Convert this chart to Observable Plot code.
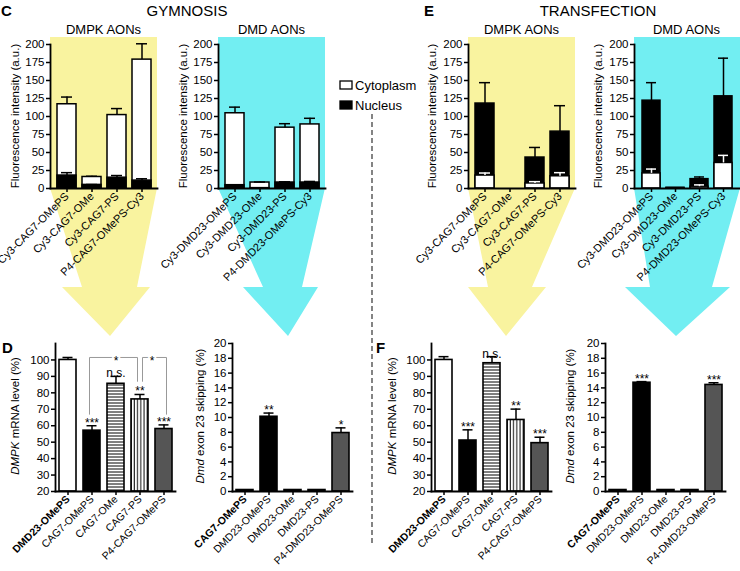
<!DOCTYPE html>
<html><head><meta charset="utf-8">
<script src="https://cdn.jsdelivr.net/npm/d3@7"></script>
<script src="https://cdn.jsdelivr.net/npm/@observablehq/plot@0.6"></script>
<style>
body{margin:0;background:#fff;font-family:"Liberation Sans",Arial,sans-serif;}
#fig{position:relative;width:740px;height:571px;overflow:hidden;background:#fff;}
</style></head><body><div id="fig"></div>
<svg width="0" height="0" style="position:absolute">
  <defs>
    <pattern id="hstripe" patternUnits="userSpaceOnUse" width="4" height="3"><rect width="4" height="3" fill="white"/><line x1="0" y1="1" x2="4" y2="1" stroke="black" stroke-width="1"/></pattern>
    <pattern id="vstripe" patternUnits="userSpaceOnUse" width="3.2" height="4"><rect width="3.2" height="4" fill="white"/><line x1="1" y1="0" x2="1" y2="4" stroke="black" stroke-width="1"/></pattern>
  </defs>
</svg>
<script>
// ---------------- DATA ----------------
const dmpkTopCats = ["Cy3-CAG7-OMePS", "Cy3-CAG7-OMe", "Cy3-CAG7-PS", "P4-CAG7-OMePS-Cy3"];
const dmdTopCats = ["Cy3-DMD23-OMePS", "Cy3-DMD23-OMe", "Cy3-DMD23-PS", "P4-DMD23-OMePS-Cy3"];
const legendLabels = ["Cytoplasm", "Nucleus"];

// Gymnosis, fluorescence (a.u.)
const gymDmpkCyto = [117, 16, 102, 179];
const gymDmpkCytoErr = [10, 1, 9, 22];
const gymDmpkNuc = [18, 5, 15, 11];
const gymDmpkNucErr = [4, 0.5, 3, 2.5];
const gymDmdCyto = [104.5, 8.3, 84.5, 89];
const gymDmdCytoErr = [8.5, 0.7, 5.5, 8.5];
const gymDmdNuc = [4.6, 0.5, 8.3, 8.3];
const gymDmdNucErr = [0.5, 0, 1, 1.5];
// Transfection, fluorescence (a.u.)
const trfDmpkCyto = [18, 0, 7, 17];
const trfDmpkCytoErr = [3.5, 0, 2.5, 5];
const trfDmpkNuc = [118, 0, 43, 79];
const trfDmpkNucErr = [29, 0, 14, 36];
const trfDmdCyto = [21, 0.5, 2.5, 35.5];
const trfDmdCytoErr = [6, 0, 2.5, 10.5];
const trfDmdNuc = [122, 1, 13, 128];
const trfDmdNucErr = [25, 0, 3, 53];

// mRNA levels (%) and exon skipping (%)
const mrnaCats = ["DMD23-OMePS", "CAG7-OMePS", "CAG7-OMe", "CAG7-PS", "P4-CAG7-OMePS"];
const gymMrna = [100, 57, 85.5, 76, 58];
const gymMrnaErr = [1.5, 3, 4.5, 3, 2.5];
const gymMrnaSig = ["", "***", "n.s.", "**", "***"];
const trfMrna = [100, 51, 98, 63.5, 49.4];
const trfMrnaErr = [2, 6.5, 4, 6.6, 3.6];
const trfMrnaSig = ["", "***", "n.s.", "**", "***"];

const skipCats = ["CAG7-OMePS", "DMD23-OMePS", "DMD23-OMe", "DMD23-PS", "P4-DMD23-OMePS"];
const gymSkip = [0.2, 10.1, 0.2, 0.2, 7.9];
const gymSkipErr = [0, 0.5, 0, 0, 0.7];
const gymSkipSig = ["", "**", "", "", "*"];
const trfSkip = [0.2, 14.7, 0.2, 0.2, 14.4];
const trfSkipErr = [0, 0.15, 0, 0, 0.3];
const trfSkipSig = ["", "***", "", "", "***"];

// comparison brackets (panel D)
const gymBrackets = [
  {from: "CAG7-OMePS", to: "CAG7-PS", y: 101.5, yFrom: 67, yTo: 87, label: "*", mid: "CAG7-OMe", midDx: 0, dx: -2.5},
  {from: "CAG7-PS", to: "P4-CAG7-OMePS", y: 101.5, yFrom: 87, yTo: 67, label: "*", mid: "CAG7-PS", midDx: 12, dx: 2.5}
];

const mrnaTicks = [20, 30, 40, 50, 60, 70, 80, 90, 100];
const skipTicks = [0, 2, 4, 6, 8, 10, 12, 14, 16, 18, 20];
const fluoTicks = [0, 25, 50, 75, 100, 125, 150, 175, 200];
const bottomFills = ["white", "black", "url(#hstripe)", "url(#vstripe)", "#555555"];

// ---------------- LAYOUT ----------------
const FONT = "'Liberation Sans', Arial, Helvetica, sans-serif";
const fig = document.getElementById("fig");
const YELLOW = "#f9f39f", CYAN = "#72eef2";

function place(el, left, top) {
  el.style.position = "absolute";
  el.style.left = left + "px";
  el.style.top = top + "px";
  fig.appendChild(el);
}

// background: arrows and separator
const bg = d3.create("svg").attr("width", 740).attr("height", 571);
const arrows = [
  {fill: YELLOW, pts: [[50,37],[157,37],[157,188],[137,287],[150,287],[110,336],[62,287],[82,287],[50,188]]},
  {fill: CYAN, pts: [[218,37],[325,37],[325,188],[302,287],[318,287],[288,336],[243,287],[263,287],[218,188]]},
  {fill: YELLOW, pts: [[468,37],[575,37],[575,188],[532,287],[546,287],[506,336],[468,287],[488,287],[468,188]]},
  {fill: CYAN, pts: [[634,37],[740,37],[740,188],[712,287],[730,287],[676,336],[625,287],[650,287],[634,188]]}
];
bg.selectAll("polygon").data(arrows).join("polygon")
  .attr("points", d => d.pts.map(p => p.join(",")).join(" "))
  .attr("fill", d => d.fill);
bg.append("line").attr("x1", 372).attr("x2", 372).attr("y1", 114).attr("y2", 545)
  .attr("stroke", "#333").attr("stroke-width", 1.2).attr("stroke-dasharray", "5,3");
place(bg.node(), 0, 0);

// top fluorescence charts
function topChart({cats, cyto, cytoErr, nuc, nucErr, axisX, plotW = 107, nucOuter}) {
  const rows = cats.map((c, i) => ({cat: c, cyto: cyto[i], cytoErr: cytoErr[i], nuc: nuc[i], nucErr: nucErr[i]}));
  const mL = 40, mR = 4, mT = 6, mB = 110, plotH = 144;
  const layer = (key, fill, errColor) => [
    Plot.barY(rows.filter(d => d[key] > 0), {x: "cat", y: key, fill, stroke: "black", strokeWidth: 1.5}),
    Plot.ruleX(rows.filter(d => d[key + "Err"] > 0), {x: "cat", y1: key, y2: d => d[key] + d[key + "Err"], stroke: errColor, strokeWidth: 1.5}),
    Plot.tickY(rows.filter(d => d[key + "Err"] > 0), {x: "cat", y: d => d[key] + d[key + "Err"], stroke: errColor, strokeWidth: 1.5, insetLeft: 4, insetRight: 4})
  ];
  const marks = nucOuter
    ? [...layer("nuc", "black", "black"), ...layer("cyto", "white", "white")]
    : [...layer("cyto", "white", "black"), ...layer("nuc", "black", "black")];
  const p = Plot.plot({
    width: mL + plotW + mR, height: mT + plotH + mB,
    marginLeft: mL, marginRight: mR, marginTop: mT, marginBottom: mB,
    x: {domain: cats, padding: 0.25, label: null},
    y: {domain: [0, 200], label: null},
    style: {background: "transparent", fontFamily: FONT, fontSize: "11px", color: "black", overflow: "visible"},
    marks: [
      ...marks,
      Plot.axisY({ticks: fluoTicks, tickSize: 4, strokeWidth: 1.5, label: null, fontSize: 11.5, tickPadding: 2}),
      Plot.axisX({tickRotate: -45, tickSize: 4, strokeWidth: 1.5, label: null, fontSize: 11, tickPadding: 2}),
      Plot.frame({anchor: "left", strokeWidth: 1.8}),
      Plot.frame({anchor: "bottom", strokeWidth: 1.8})
    ]
  });
  place(p, axisX - mL, 44 - mT);
}

topChart({cats: dmpkTopCats, cyto: gymDmpkCyto, cytoErr: gymDmpkCytoErr, nuc: gymDmpkNuc, nucErr: gymDmpkNucErr, axisX: 50});
topChart({cats: dmdTopCats, cyto: gymDmdCyto, cytoErr: gymDmdCytoErr, nuc: gymDmdNuc, nucErr: gymDmdNucErr, axisX: 218});
topChart({cats: dmpkTopCats, cyto: trfDmpkCyto, cytoErr: trfDmpkCytoErr, nuc: trfDmpkNuc, nucErr: trfDmpkNucErr, axisX: 468, nucOuter: true});
topChart({cats: dmdTopCats, cyto: trfDmdCyto, cytoErr: trfDmdCytoErr, nuc: trfDmdNuc, nucErr: trfDmdNucErr, axisX: 634, plotW: 105, nucOuter: true});

// bottom charts
function bottomChart({cats, vals, errs, sigs, axisX, yDomain, yTicks, plotW = 120, brackets = []}) {
  const rows = cats.map((c, i) => ({cat: c, val: vals[i], err: errs[i], sig: sigs[i], fill: bottomFills[i]}));
  const mL = 40, mR = 4, mT = 4, mB = 90, plotH = 148;
  const marks = [];
  rows.forEach(r => marks.push(Plot.barY([r], {x: "cat", y1: yDomain[0], y2: "val", fill: r.fill, stroke: "black", strokeWidth: 1.6})));
  const er = rows.filter(d => d.err > 0);
  marks.push(Plot.ruleX(er, {x: "cat", y1: "val", y2: d => d.val + d.err, stroke: "black", strokeWidth: 1.5}));
  marks.push(Plot.tickY(er, {x: "cat", y: d => d.val + d.err, stroke: "black", strokeWidth: 1.5, insetLeft: 3.5, insetRight: 3.5}));
  brackets.forEach(b => {
    marks.push(Plot.line([{x: b.from, y: b.yFrom}, {x: b.from, y: b.y}, {x: b.to, y: b.y}, {x: b.to, y: b.yTo}],
      {x: "x", y: "y", stroke: "#999", strokeWidth: 1, dx: b.dx}));
    marks.push(Plot.text([b], {x: "mid", y: "y", text: "label", dx: b.midDx, dy: 4, fontSize: 12, fill: "black", stroke: "white", strokeWidth: 4}));
  });
  marks.push(Plot.text(rows.filter(d => d.sig), {x: "cat", y: d => d.val + d.err, text: "sig", lineAnchor: "bottom", dy: 1, fontSize: 12}));
  const p = Plot.plot({
    width: mL + plotW + mR, height: mT + plotH + mB,
    marginLeft: mL, marginRight: mR, marginTop: mT, marginBottom: mB,
    x: {domain: cats, paddingInner: 0.3, paddingOuter: 0.15, label: null},
    y: {domain: yDomain, label: null},
    style: {background: "transparent", fontFamily: FONT, fontSize: "11px", color: "black", overflow: "visible"},
    marks: [
      ...marks,
      Plot.axisY({ticks: yTicks, tickSize: 4, strokeWidth: 1.5, label: null, fontSize: 11.5, tickPadding: 2}),
      Plot.axisX([cats[0]], {tickRotate: -45, tickSize: 4, strokeWidth: 1.5, label: null, fontSize: 10.5, fontWeight: "bold", tickPadding: 2}),
      Plot.axisX(cats.slice(1), {tickRotate: -45, tickSize: 4, strokeWidth: 1.5, label: null, fontSize: 10.5, tickPadding: 2}),
      Plot.frame({anchor: "left", strokeWidth: 1.8}),
      Plot.frame({anchor: "bottom", strokeWidth: 1.8})
    ]
  });
  place(p, axisX - mL, 342.5 - mT);
}

bottomChart({cats: mrnaCats, vals: gymMrna, errs: gymMrnaErr, sigs: gymMrnaSig, axisX: 55, yDomain: [20, 110], yTicks: mrnaTicks, brackets: gymBrackets});
bottomChart({cats: skipCats, vals: gymSkip, errs: gymSkipErr, sigs: gymSkipSig, axisX: 232, yDomain: [0, 20], yTicks: skipTicks});
bottomChart({cats: mrnaCats, vals: trfMrna, errs: trfMrnaErr, sigs: trfMrnaSig, axisX: 431, yDomain: [20, 110], yTicks: mrnaTicks});
bottomChart({cats: skipCats, vals: trfSkip, errs: trfSkipErr, sigs: trfSkipSig, axisX: 605, yDomain: [0, 20], yTicks: skipTicks});

// overlay texts
const ov = d3.create("svg").attr("width", 740).attr("height", 571).style("pointer-events", "none")
  .attr("font-family", FONT).attr("fill", "black");
const t = (x, y, s, size, opts = {}) => {
  const el = ov.append("text").attr("x", x).attr("y", y).attr("font-size", size)
    .attr("text-anchor", opts.anchor || "start").attr("font-weight", opts.bold ? "bold" : null).text(s);
  return el;
};
t(1, 16, "C", 15, {bold: true});
t(424, 16, "E", 15, {bold: true});
t(2, 353, "D", 15, {bold: true});
t(376, 353, "F", 15, {bold: true});
t(187, 16, "GYMNOSIS", 15, {anchor: "middle"});
t(598, 16, "TRANSFECTION", 15, {anchor: "middle"});
t(103.5, 34, "DMPK AONs", 13, {anchor: "middle"});
t(271.5, 34, "DMD AONs", 13, {anchor: "middle"});
t(521.5, 34, "DMPK AONs", 13, {anchor: "middle"});
t(686.5, 34, "DMD AONs", 13, {anchor: "middle"});

const vlabel = (x, y, parts) => {
  const el = ov.append("text").attr("transform", `translate(${x},${y}) rotate(-90)`)
    .attr("text-anchor", "middle").attr("font-size", 11.5);
  parts.forEach(([s, it]) => el.append("tspan").attr("font-style", it ? "italic" : null).text(s));
};
[19, 187, 436, 602].forEach(x => vlabel(x, 116, [["Fluorescence intensity (a.u.)", false]]));
vlabel(19, 416, [["DMPK", true], [" mRNA level (%)", false]]);
vlabel(204, 416, [["Dmd", true], [" exon 23 skipping (%)", false]]);
vlabel(396, 416, [["DMPK", true], [" mRNA level (%)", false]]);
vlabel(574, 416, [["Dmd", true], [" exon 23 skipping (%)", false]]);

// legend
const legendFills = ["white", "black"];
legendLabels.forEach((lab, i) => {
  const y = 85 + i * 20;
  ov.append("rect").attr("x", 340).attr("y", y - 4).attr("width", 12).attr("height", 8)
    .attr("fill", legendFills[i]).attr("stroke", "black").attr("stroke-width", 1.3);
  t(355, y + 4.5, lab, 13);
});
place(ov.node(), 0, 0);
</script>
</body></html>
